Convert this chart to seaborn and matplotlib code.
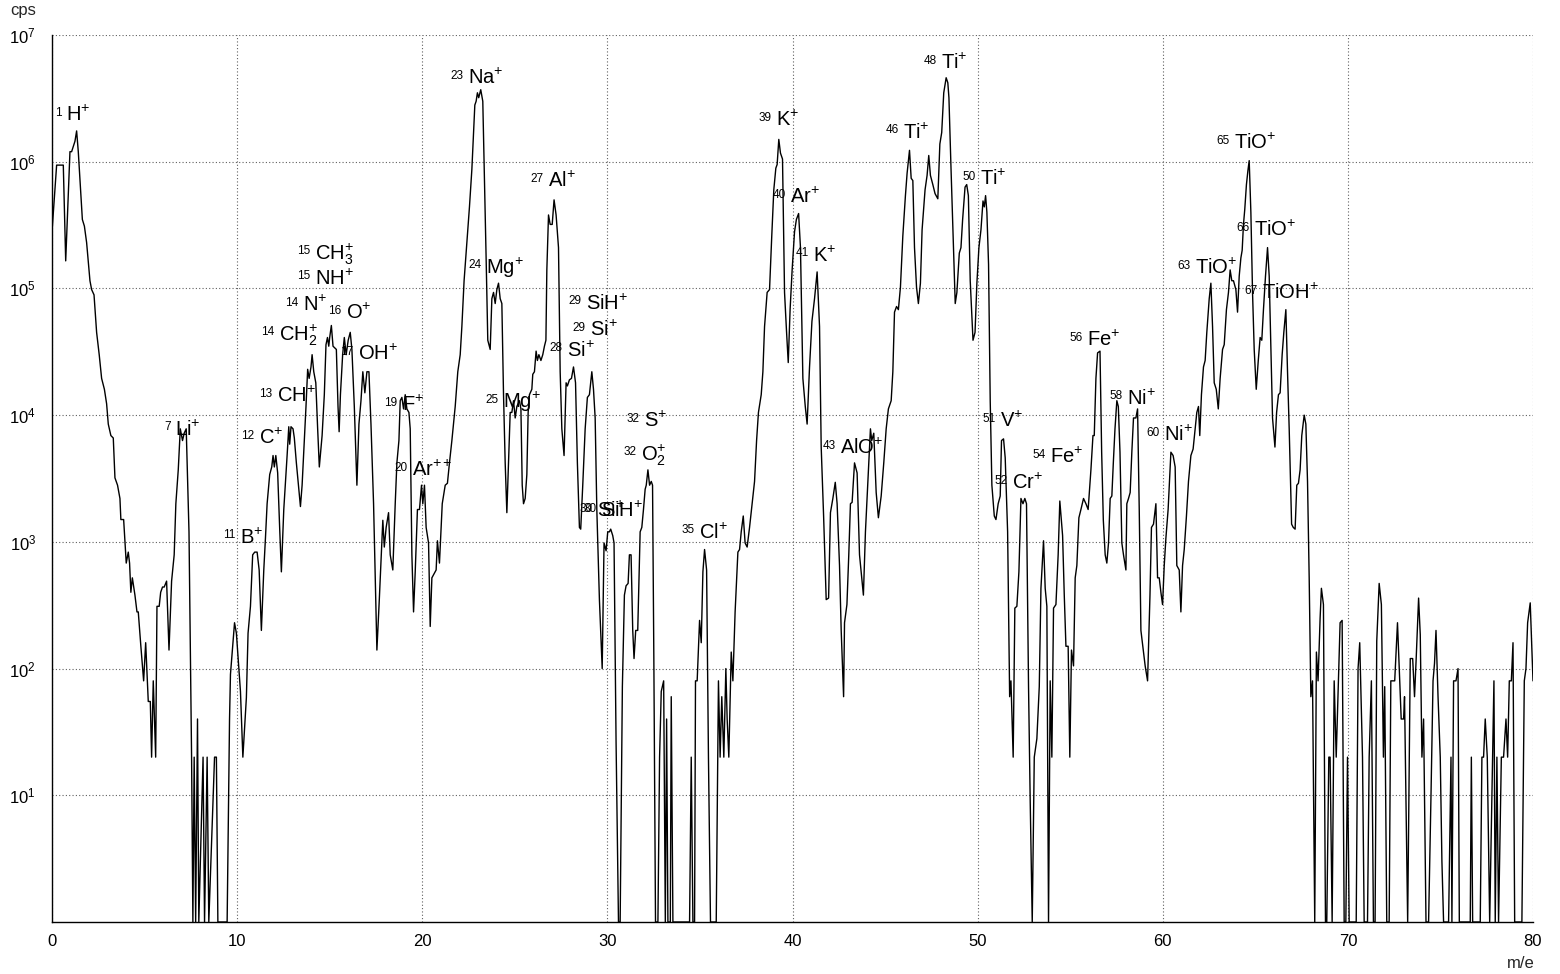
import matplotlib
matplotlib.use("Agg")
import matplotlib.pyplot as plt
import numpy as np
import pandas as pd
import seaborn as sns
from matplotlib.ticker import FixedLocator, NullLocator, LogFormatterSciNotation

# Mass spectrum: m/e position and count rate (cps); 0 = no counts
mz = [
    0.00, 0.25, 0.61, 0.74, 0.97, 1.06, 1.24, 1.33, 1.42, 1.64,
    1.75, 1.87, 2.05, 2.14, 2.27, 2.41, 2.55, 2.68, 2.83, 2.95,
    3.04, 3.18, 3.31, 3.40, 3.54, 3.67, 3.72, 3.87, 4.01, 4.12,
    4.19, 4.26, 4.34, 4.48, 4.59, 4.66, 4.80, 4.95, 5.06, 5.20,
    5.31, 5.38, 5.47, 5.60, 5.67, 5.79, 5.87, 5.97, 6.06, 6.19,
    6.32, 6.46, 6.60, 6.69, 6.82, 6.93, 7.05, 7.14, 7.25, 7.40,
    7.54, 7.61, 7.68, 7.76, 7.86, 7.93, 8.16, 8.24, 8.38, 8.47,
    8.78, 8.88, 8.96, 9.46, 9.59, 9.64, 9.86, 9.96, 10.18, 10.31,
    10.50, 10.59, 10.72, 10.84, 10.95, 11.08, 11.19, 11.31, 11.44, 11.53,
    11.62, 11.76, 11.87, 11.94, 12.01, 12.09, 12.19, 12.30, 12.39, 12.52,
    12.70, 12.79, 12.84, 12.91, 13.02, 13.09, 13.20, 13.42, 13.51, 13.60,
    13.72, 13.81, 13.89, 13.99, 14.05, 14.14, 14.25, 14.35, 14.44, 14.59,
    14.71, 14.80, 14.88, 14.95, 15.00, 15.09, 15.18, 15.36, 15.45, 15.51,
    15.58, 15.70, 15.79, 15.89, 16.00, 16.11, 16.20, 16.33, 16.47, 16.58,
    16.69, 16.79, 16.90, 17.01, 17.12, 17.23, 17.37, 17.55, 17.68, 17.80,
    17.87, 17.95, 18.05, 18.18, 18.27, 18.41, 18.54, 18.63, 18.74, 18.81,
    18.90, 18.99, 19.08, 19.17, 19.28, 19.35, 19.44, 19.53, 19.62, 19.74,
    19.85, 19.96, 20.03, 20.12, 20.21, 20.34, 20.43, 20.52, 20.61, 20.75,
    20.82, 20.93, 21.08, 21.24, 21.36, 21.47, 21.60, 21.78, 21.92, 22.05,
    22.14, 22.26, 22.41, 22.55, 22.68, 22.77, 22.84, 22.91, 22.98, 23.05,
    23.16, 23.27, 23.34, 23.45, 23.54, 23.67, 23.76, 23.85, 23.94, 24.03,
    24.12, 24.21, 24.30, 24.39, 24.48, 24.57, 24.66, 24.75, 24.84, 24.93,
    25.02, 25.11, 25.25, 25.33, 25.40, 25.47, 25.56, 25.65, 25.72, 25.79,
    25.92, 25.97, 26.06, 26.15, 26.22, 26.30, 26.41, 26.51, 26.60, 26.68,
    26.73, 26.82, 26.91, 27.02, 27.12, 27.23, 27.36, 27.45, 27.54, 27.66,
    27.77, 27.84, 27.95, 28.06, 28.17, 28.28, 28.38, 28.49, 28.56, 28.67,
    28.80, 28.92, 29.03, 29.16, 29.25, 29.34, 29.43, 29.57, 29.72, 29.82,
    29.93, 30.02, 30.11, 30.18, 30.29, 30.36, 30.47, 30.60, 30.69, 30.81,
    30.92, 31.01, 31.12, 31.19, 31.28, 31.37, 31.44, 31.53, 31.64, 31.77,
    31.86, 31.95, 32.04, 32.10, 32.19, 32.28, 32.37, 32.44, 32.51, 32.60,
    32.73, 32.82, 32.91, 33.04, 33.13, 33.20, 33.27, 33.40, 33.45, 33.54,
    34.44, 34.53, 34.62, 34.71, 34.76, 34.85, 34.98, 35.07, 35.16, 35.25,
    35.36, 35.46, 35.57, 35.88, 36.00, 36.09, 36.18, 36.29, 36.40, 36.47,
    36.56, 36.69, 36.78, 36.90, 37.05, 37.14, 37.23, 37.34, 37.44, 37.55,
    37.68, 37.80, 37.95, 38.06, 38.16, 38.31, 38.40, 38.49, 38.63, 38.76,
    38.88, 38.99, 39.10, 39.17, 39.26, 39.35, 39.46, 39.57, 39.68, 39.77,
    39.87, 39.98, 40.11, 40.21, 40.33, 40.43, 40.56, 40.69, 40.79, 40.92,
    41.05, 41.19, 41.33, 41.46, 41.55, 41.68, 41.82, 41.95, 42.05, 42.18,
    42.31, 42.41, 42.54, 42.63, 42.76, 42.81, 42.94, 43.04, 43.13, 43.22,
    43.35, 43.49, 43.62, 43.71, 43.83, 43.94, 44.07, 44.21, 44.28, 44.39,
    44.52, 44.64, 44.79, 44.93, 45.06, 45.18, 45.33, 45.42, 45.51, 45.62,
    45.72, 45.83, 45.96, 46.10, 46.19, 46.32, 46.41, 46.50, 46.59, 46.70,
    46.80, 46.91, 47.00, 47.16, 47.27, 47.36, 47.45, 47.58, 47.70, 47.85,
    47.96, 48.06, 48.17, 48.30, 48.39, 48.45, 48.56, 48.69, 48.79, 48.88,
    49.01, 49.10, 49.19, 49.32, 49.41, 49.50, 49.60, 49.75, 49.86, 49.96,
    50.07, 50.18, 50.29, 50.36, 50.43, 50.50, 50.59, 50.68, 50.77, 50.90,
    50.99, 51.11, 51.22, 51.29, 51.40, 51.49, 51.62, 51.73, 51.80, 51.92,
    52.01, 52.12, 52.23, 52.34, 52.45, 52.55, 52.64, 52.75, 52.84, 52.95,
    53.06, 53.20, 53.33, 53.42, 53.56, 53.65, 53.74, 53.83, 53.92, 54.01,
    54.10, 54.23, 54.35, 54.44, 54.59, 54.68, 54.77, 54.89, 54.98, 55.07,
    55.18, 55.27, 55.36, 55.47, 55.58, 55.72, 55.85, 55.97, 56.12, 56.23,
    56.30, 56.39, 56.48, 56.61, 56.70, 56.79, 56.89, 56.98, 57.07, 57.16,
    57.25, 57.33, 57.42, 57.52, 57.60, 57.69, 57.79, 57.88, 58.01, 58.06,
    58.15, 58.24, 58.33, 58.42, 58.55, 58.64, 58.73, 58.82, 58.95, 59.05,
    59.18, 59.31, 59.39, 59.50, 59.63, 59.72, 59.81, 59.90, 59.99, 60.08,
    60.17, 60.29, 60.44, 60.56, 60.67, 60.76, 60.89, 60.98, 61.07, 61.16,
    61.28, 61.39, 61.52, 61.64, 61.75, 61.84, 61.93, 62.00, 62.09, 62.20,
    62.29, 62.38, 62.51, 62.60, 62.69, 62.78, 62.89, 63.00, 63.10, 63.23,
    63.32, 63.44, 63.55, 63.64, 63.73, 63.82, 63.95, 64.04, 64.13, 64.22,
    64.29, 64.36, 64.43, 64.52, 64.60, 64.67, 64.76, 64.85, 64.94, 65.05,
    65.16, 65.26, 65.35, 65.44, 65.55, 65.66, 65.75, 65.84, 65.93, 66.06,
    66.15, 66.25, 66.34, 66.45, 66.54, 66.65, 66.74, 66.83, 66.96, 67.05,
    67.15, 67.24, 67.33, 67.42, 67.51, 67.64, 67.73, 67.82, 67.91, 68.00,
    68.09, 68.21, 68.30, 68.39, 68.50, 68.57, 68.68, 68.79, 68.86, 68.97,
    69.04, 69.15, 69.26, 69.37, 69.47, 69.58, 69.69, 69.80, 69.89, 69.98,
    70.07, 70.45, 70.55, 70.64, 70.79, 70.88, 71.06, 71.15, 71.27, 71.38,
    71.47, 71.56, 71.69, 71.81, 71.92, 71.99, 72.10, 72.23, 72.32, 72.53,
    72.68, 72.88, 73.01, 73.06, 73.23, 73.37, 73.50, 73.60, 73.69, 73.82,
    73.91, 74.00, 74.09, 74.22, 74.36, 74.49, 74.60, 74.68, 74.76, 74.87,
    74.99, 75.08, 75.17, 75.44, 75.57, 75.62, 75.71, 75.84, 75.95, 76.02,
    76.61, 76.67, 76.74, 77.15, 77.24, 77.33, 77.42, 77.53, 77.66, 77.89,
    77.96, 78.05, 78.14, 78.29, 78.41, 78.54, 78.63, 78.72, 78.83, 78.92,
    79.01, 79.40, 79.53, 79.62, 79.71, 79.85, 80.00,
]

cps = [
    2.8e5, 9.4e5, 9.4e5, 1.65e5, 1.2e6, 1.2e6, 1.45e6, 1.75e6, 1.2e6, 3.5e5,
    3.1e5, 2.3e5, 1.15e5, 9.8e4, 8.9e4, 4.5e4, 3.0e4, 1.95e4, 1.6e4, 1.23e4,
    8.5e3, 6.9e3, 6.6e3, 3.2e3, 2.8e3, 2.2e3, 1.5e3, 1.5e3, 680, 830,
    680, 400, 520, 380, 280, 280, 150, 80, 160, 55,
    55, 20, 80, 20, 310, 310, 400, 440, 440, 490,
    140, 490, 790, 2.0e3, 3.7e3, 7.8e3, 6.3e3, 7.2e3, 7.8e3, 1.2e3,
    20, 0, 20, 0, 40, 0, 20, 0, 20, 0,
    20, 20, 0, 0, 40, 90, 230, 190, 66, 20,
    59, 190, 310, 790, 830, 830, 600, 200, 600, 1.07e3,
    2.0e3, 3.4e3, 3.9e3, 4.8e3, 3.9e3, 4.8e3, 3.5e3, 1.26e3, 580, 1.8e3,
    4.8e3, 8.1e3, 5.9e3, 8.1e3, 7.8e3, 6.6e3, 4.2e3, 1.9e3, 2.8e3, 5.1e3,
    1.17e4, 2.3e4, 1.95e4, 2.4e4, 3.0e4, 2.2e4, 1.8e4, 7.8e3, 3.9e3, 6.9e3,
    1.45e4, 3.6e4, 4.1e4, 3.5e4, 4.1e4, 5.1e4, 3.5e4, 3.3e4, 1.17e4, 7.4e3,
    1.45e4, 3.0e4, 4.1e4, 3.0e4, 3.9e4, 4.5e4, 3.3e4, 1.17e4, 2.8e3, 8.5e3,
    1.3e4, 2.2e4, 1.5e4, 2.2e4, 2.2e4, 8.5e3, 2.0e3, 140, 350, 870,
    1.48e3, 910, 1.3e3, 1.7e3, 790, 600, 2.0e3, 4.2e3, 6.3e3, 1.3e4,
    1.38e4, 1.12e4, 1.45e4, 1.12e4, 1.05e4, 7.8e3, 790, 280, 580, 1.8e3,
    1.8e3, 2.8e3, 2.0e3, 2.8e3, 1.3e3, 980, 215, 520, 550, 600,
    1.02e3, 680, 2.0e3, 2.8e3, 2.9e3, 4.2e3, 6.3e3, 1.17e4, 2.2e4, 3.0e4,
    5.0e4, 1.15e5, 2.3e5, 4.4e5, 8.7e5, 1.7e6, 2.8e6, 3.0e6, 3.5e6, 3.2e6,
    3.7e6, 3.0e6, 1.0e6, 1.74e5, 3.9e4, 3.3e4, 8.3e4, 9.3e4, 7.6e4, 9.8e4,
    1.1e5, 8.3e4, 7.6e4, 1.45e4, 4.2e3, 1.7e3, 4.2e3, 1.05e4, 1.05e4, 1.3e4,
    9.5e3, 1.17e4, 1.3e4, 1.12e4, 2.8e3, 2.0e3, 2.2e3, 3.4e3, 1.05e4, 1.45e4,
    1.6e4, 2.1e4, 2.2e4, 3.2e4, 2.7e4, 3.0e4, 2.7e4, 3.0e4, 3.5e4, 3.9e4,
    1.4e5, 3.8e5, 3.2e5, 3.2e5, 5.0e5, 3.8e5, 2.1e5, 2.2e4, 7.8e3, 4.8e3,
    1.8e4, 1.7e4, 1.9e4, 1.95e4, 2.4e4, 1.8e4, 4.2e3, 1.3e3, 1.26e3, 2.8e3,
    7.8e3, 1.38e4, 1.45e4, 2.2e4, 1.6e4, 9.5e3, 1.8e3, 350, 100, 980,
    850, 1.2e3, 1.2e3, 1.26e3, 1.12e3, 980, 26, 0, 0, 72,
    380, 450, 470, 790, 790, 200, 120, 200, 200, 1.2e3,
    1.3e3, 1.8e3, 2.6e3, 2.8e3, 3.7e3, 2.8e3, 3.0e3, 2.8e3, 120, 0,
    0, 20, 66, 80, 0, 40, 0, 0, 60, 0,
    0, 20, 0, 0, 80, 80, 240, 160, 580, 870,
    600, 20, 0, 0, 80, 20, 60, 20, 100, 40,
    20, 135, 80, 280, 830, 870, 1.2e3, 1.6e3, 980, 910,
    1.3e3, 1.9e3, 3.0e3, 6.3e3, 1.05e4, 1.45e4, 2.2e4, 5.0e4, 9.3e4, 9.8e4,
    2.6e5, 6.0e5, 8.9e5, 9.5e5, 1.5e6, 1.17e6, 1.05e6, 9.3e4, 4.5e4, 2.6e4,
    6.8e4, 1.4e5, 2.8e5, 3.5e5, 3.9e5, 2.1e5, 1.95e4, 1.17e4, 8.5e3, 2.4e4,
    5.5e4, 8.3e4, 1.35e5, 5.0e4, 5.6e3, 1.6e3, 350, 360, 1.7e3, 2.2e3,
    2.95e3, 2.0e3, 650, 200, 60, 230, 320, 790, 2.0e3, 2.05e3,
    4.2e3, 3.5e3, 790, 580, 380, 1.2e3, 3.0e3, 7.8e3, 6.3e3, 7.2e3,
    2.45e3, 1.55e3, 2.3e3, 4.2e3, 7.8e3, 1.12e4, 1.3e4, 2.2e4, 6.5e4, 7.2e4,
    6.8e4, 1.02e5, 2.6e5, 5.4e5, 8.1e5, 1.23e6, 7.4e5, 7.1e5, 2.1e5, 1.02e5,
    7.6e4, 1.1e5, 2.9e5, 6.0e5, 7.8e5, 1.12e6, 7.8e5, 6.6e5, 5.6e5, 5.1e5,
    1.38e6, 1.7e6, 3.5e6, 4.6e6, 4.2e6, 3.2e6, 9.1e5, 2.3e5, 7.6e4, 9.3e4,
    1.9e5, 2.1e5, 3.5e5, 6.3e5, 6.6e5, 5.4e5, 1.15e5, 3.9e4, 4.5e4, 1.1e5,
    2.1e5, 2.9e5, 4.9e5, 4.4e5, 5.4e5, 4.0e5, 1.55e5, 1.3e4, 2.8e3, 1.6e3,
    1.5e3, 2.0e3, 2.3e3, 6.3e3, 6.5e3, 4.6e3, 1.2e3, 60, 80, 20,
    300, 310, 580, 2.2e3, 2.0e3, 2.2e3, 2.0e3, 72, 9, 0,
    20, 28, 72, 430, 1.02e3, 430, 310, 0, 80, 20,
    300, 320, 790, 2.1e3, 1.12e3, 380, 150, 150, 20, 140,
    105, 520, 650, 1.55e3, 1.8e3, 2.2e3, 2.0e3, 1.8e3, 3.7e3, 6.9e3,
    6.9e3, 1.95e4, 3.1e4, 3.2e4, 5.1e3, 1.48e3, 790, 680, 980, 2.2e3,
    2.3e3, 4.2e3, 7.8e3, 1.3e4, 1.17e4, 5.1e3, 980, 790, 600, 2.0e3,
    2.2e3, 2.45e3, 5.1e3, 9.5e3, 9.5e3, 1.12e4, 1.8e3, 200, 140, 105,
    80, 380, 1.3e3, 1.38e3, 2.0e3, 520, 520, 400, 320, 650,
    1.07e3, 1.8e3, 5.1e3, 4.8e3, 3.9e3, 650, 600, 280, 650, 870,
    1.6e3, 3.0e3, 4.8e3, 5.4e3, 7.8e3, 1.05e4, 1.17e4, 6.9e3, 1.45e4, 2.4e4,
    2.7e4, 4.5e4, 8.3e4, 1.1e5, 5.0e4, 1.8e4, 1.6e4, 1.12e4, 1.95e4, 3.3e4,
    3.6e4, 6.8e4, 9.3e4, 1.4e5, 1.15e5, 1.15e5, 9.8e4, 6.5e4, 1.25e5, 1.74e5,
    2.0e5, 3.2e5, 4.2e5, 6.6e5, 8.5e5, 1.02e6, 4.0e5, 9.3e4, 3.3e4, 1.6e4,
    2.7e4, 4.1e4, 3.9e4, 6.8e4, 1.25e5, 2.1e5, 1.25e5, 3.3e4, 9.5e3, 5.6e3,
    1.05e4, 1.45e4, 1.5e4, 3.0e4, 4.5e4, 6.8e4, 2.2e4, 7.8e3, 1.38e3, 1.3e3,
    1.26e3, 2.8e3, 2.9e3, 3.7e3, 6.9e3, 1.0e4, 8.5e3, 3.0e3, 520, 60,
    80, 0, 135, 80, 250, 430, 320, 0, 0, 20,
    20, 0, 80, 20, 66, 230, 240, 0, 0, 20,
    0, 0, 100, 160, 20, 0, 0, 20, 80, 0,
    0, 165, 470, 320, 20, 72, 0, 0, 80, 80,
    230, 40, 40, 60, 0, 120, 120, 60, 120, 360,
    185, 20, 40, 0, 0, 10, 80, 110, 200, 60,
    20, 3, 0, 0, 20, 0, 80, 80, 100, 0,
    0, 20, 0, 0, 20, 20, 40, 20, 0, 80,
    0, 20, 0, 20, 20, 40, 20, 80, 80, 160,
    0, 0, 80, 100, 230, 330, 80,
]

# Peak labels: isotope mass number, element / molecule, charge and sub-script parts,
# anchored at the left baseline of the formula (m/e, cps)
label_mass = [1, 7, 11, 12, 13, 14, 14, 16, 15, 15, 17, 19, 20, 23, 24, 25, 27, 28, 29, 29,
              30, 30, 32, 32, 35, 39, 40, 41, 43, 46, 48, 50, 51, 52, 54, 56, 58, 60, 63, 65,
              66, 67]
label_formula = ["H", "Li", "B", "C", "CH", "CH", "N", "O", "NH", "CH", "OH", "F", "Ar", "Na",
                 "Mg", "Mg", "Al", "Si", "SiH", "Si", "Si", "SiH", "S", "O", "Cl", "K", "Ar", "K",
                 "AlO", "Ti", "Ti", "Ti", "V", "Cr", "Fe", "Fe", "Ni", "Ni", "TiO", "TiO", "TiO",
                 "TiOH"]
label_subscript = ["", "", "", "", "", "2", "", "", "", "3", "", "", "", "", "", "", "", "", "",
                   "", "", "", "", "2", "", "", "", "", "", "", "", "", "", "", "", "", "", "",
                   "", "", "", ""]
label_charge = ["+"] * 12 + ["++"] + ["+"] * 29
label_mz = [0.76, 6.65, 10.16, 11.18, 12.16, 12.26, 13.56, 15.88, 14.21, 14.21, 16.53, 18.91,
            19.45, 22.47, 23.45, 24.37, 26.80, 27.82, 28.85, 29.06, 29.44, 29.66, 31.98, 31.82,
            34.95, 39.11, 39.87, 41.11, 42.57, 45.98, 48.03, 50.13, 51.22, 51.86, 53.92, 55.92,
            58.08, 60.08, 61.75, 63.86, 64.94, 65.37]
label_cps = [2.1e6, 6.9e3, 970, 5.9e3, 1.26e4, 3.9e4, 6.6e4, 5.7e4, 1.07e5, 1.69e5, 2.7e4, 1.07e4,
             3.3e3, 4.1e6, 1.31e5, 1.13e4, 6.3e5, 2.9e4, 6.8e4, 4.2e4, 1.56e3, 1.56e3, 8.0e3, 4.4e3,
             1.06e3, 1.9e6, 4.7e5, 1.63e5, 4.9e3, 1.52e6, 5.4e6, 6.5e5, 8.0e3, 2.6e3, 4.2e3, 3.5e4,
             1.21e4, 6.2e3, 1.29e5, 1.25e6, 2.6e5, 8.2e4]

y_decades = [1e1, 1e2, 1e3, 1e4, 1e5, 1e6, 1e7]
x_ticks = [0, 10, 20, 30, 40, 50, 60, 70, 80]

sns.set_theme(style="white")
plt.rcParams["font.family"] = ["Liberation Sans", "DejaVu Sans"]
plt.rcParams["mathtext.fontset"] = "custom"
plt.rcParams["mathtext.rm"] = "Liberation Sans"
plt.rcParams["mathtext.it"] = "Liberation Sans:italic"
plt.rcParams["mathtext.bf"] = "Liberation Sans:bold"
plt.rcParams["mathtext.sf"] = "Liberation Sans"

W, H = 1560, 974
fig = plt.figure(figsize=(W / 100, H / 100), dpi=100)
ax = fig.add_axes([52 / W, 1 - 922 / H, (1533 - 52) / W, (922 - 35) / H])

spectrum = pd.DataFrame({"m/e": mz, "cps": cps})
# empty channels are drawn on the floor of the log axis
spectrum["drawn"] = spectrum["cps"].clip(lower=1.0)

sns.lineplot(data=spectrum, x="m/e", y="drawn", estimator=None, sort=False,
             color="black", linewidth=1.0, ax=ax, zorder=3)

ax.set_yscale("log")
ax.set_xlim(0, 80)
ax.set_ylim(1, 1e7)
ax.xaxis.set_major_locator(FixedLocator(x_ticks))
ax.yaxis.set_major_locator(FixedLocator(y_decades))
ax.yaxis.set_minor_locator(NullLocator())
ax.yaxis.set_major_formatter(LogFormatterSciNotation())
ax.set_xlabel("")
ax.set_ylabel("")

ax.grid(True, which="major", color="#606060", linestyle=(0, (1, 2)), linewidth=0.8)
ax.set_axisbelow(True)
for side in ("top", "right"):
    ax.spines[side].set_visible(False)
for side in ("left", "bottom"):
    ax.spines[side].set_color("black")
    ax.spines[side].set_linewidth(1.0)
    ax.spines[side].set_zorder(4)

ax.tick_params(axis="both", direction="out", length=3.5, width=0.8, labelsize=12,
               colors="black")
ax.tick_params(axis="x", pad=5)
ax.tick_params(axis="y", pad=8)

for mass, formula, sub, charge, xm, yc in zip(label_mass, label_formula, label_subscript,
                                             label_charge, label_mz, label_cps):
    body = r"\mathrm{%s}" % formula
    if sub:
        body += "_{%s}" % sub
    body += "^{%s}" % charge
    ax.annotate("$" + body + "$", (xm, yc), xytext=(0, 0), textcoords="offset points",
                ha="left", va="baseline", fontsize=14.5, color="black", zorder=2)
    ax.annotate(str(mass), (xm, yc), xytext=(-3.2, 3.8), textcoords="offset points",
                ha="right", va="baseline", fontsize=8.5, color="black", zorder=2)

fig.text(10 / W, 1 - 10 / H, "cps", ha="left", va="center", fontsize=12)
fig.text(1535 / W, 1 - 964 / H, "m/e", ha="right", va="center", fontsize=12)

fig.savefig("out.png", dpi=100, facecolor="white")
